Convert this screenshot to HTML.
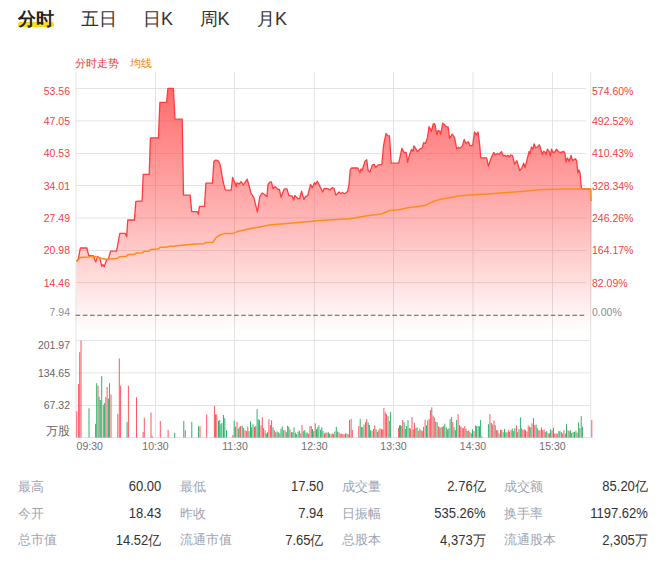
<!DOCTYPE html>
<html><head><meta charset="utf-8"><style>
html,body{margin:0;padding:0;background:#fff;width:664px;height:562px;overflow:hidden}
body{position:relative;font-family:"Liberation Sans",sans-serif}
.tab{position:absolute;top:7.5px;font-size:18px;line-height:22px;color:#333;font-weight:300}
.tab.on{font-weight:bold;color:#222;top:7.7px}
.hl{position:absolute;left:18px;top:22px;width:36px;height:5px;background:#ffd81a;border-radius:2px}
.lg{position:absolute;top:55.7px;font-size:11px;line-height:14px;font-weight:300}
.ly{position:absolute;left:0;width:70px;text-align:right;font-size:10.5px;line-height:13px}
.ry{position:absolute;left:592px;font-size:10.5px;line-height:13px}
.vy{position:absolute;left:0;width:70px;text-align:right;font-size:10.5px;line-height:13px;color:#666}
.tl{position:absolute;top:439px;font-size:10.5px;line-height:14px;color:#6e6e6e}
.sk{position:absolute;font-size:13px;line-height:18px;color:#9ea3b0;font-weight:300;margin-top:0.6px}
.sv{position:absolute;font-size:14px;line-height:18px;color:#333;text-align:right;font-weight:300;margin-top:0.9px;transform:scaleX(0.93);transform-origin:100% 50%}
svg{position:absolute;left:0;top:0}
</style></head><body>
<div class="hl"></div>
<div class="tab on" style="left:18px">分时</div>
<div class="tab" style="left:80.5px">五日</div>
<div class="tab" style="left:143px">日K</div>
<div class="tab" style="left:199.5px">周K</div>
<div class="tab" style="left:257px">月K</div>
<div class="lg" style="left:75px;color:#f53a3a">分时走势</div>
<div class="lg" style="left:129.6px;color:#ff7f00">均线</div>
<svg width="664" height="562" viewBox="0 0 664 562">
<defs><linearGradient id="gf" x1="0" y1="88" x2="0" y2="332" gradientUnits="userSpaceOnUse">
<stop offset="0" stop-color="#ff3b3b" stop-opacity="0.75"/>
<stop offset="0.5" stop-color="#ff3b3b" stop-opacity="0.4"/>
<stop offset="1" stop-color="#ff3b3b" stop-opacity="0"/>
</linearGradient></defs>
<line x1="76" y1="72" x2="76" y2="437.6" stroke="#e3e3e3" stroke-width="1"/><line x1="155.5" y1="72" x2="155.5" y2="437.6" stroke="#e3e3e3" stroke-width="1"/><line x1="234.5" y1="72" x2="234.5" y2="437.6" stroke="#e3e3e3" stroke-width="1"/><line x1="314.3" y1="72" x2="314.3" y2="437.6" stroke="#e3e3e3" stroke-width="1"/><line x1="393.5" y1="72" x2="393.5" y2="437.6" stroke="#e3e3e3" stroke-width="1"/><line x1="473" y1="72" x2="473" y2="437.6" stroke="#e3e3e3" stroke-width="1"/><line x1="552.5" y1="72" x2="552.5" y2="437.6" stroke="#e3e3e3" stroke-width="1"/><line x1="590.7" y1="72" x2="590.7" y2="437.6" stroke="#e3e3e3" stroke-width="1"/><line x1="76" y1="88.5" x2="586" y2="88.5" stroke="#e3e3e3" stroke-width="1"/><line x1="76" y1="120.9" x2="586" y2="120.9" stroke="#e3e3e3" stroke-width="1"/><line x1="76" y1="153.5" x2="586" y2="153.5" stroke="#e3e3e3" stroke-width="1"/><line x1="76" y1="185.5" x2="586" y2="185.5" stroke="#e3e3e3" stroke-width="1"/><line x1="76" y1="218" x2="586" y2="218" stroke="#e3e3e3" stroke-width="1"/><line x1="76" y1="250.5" x2="586" y2="250.5" stroke="#e3e3e3" stroke-width="1"/><line x1="76" y1="282.6" x2="586" y2="282.6" stroke="#e3e3e3" stroke-width="1"/><line x1="76" y1="340.5" x2="590.7" y2="340.5" stroke="#e3e3e3" stroke-width="1"/><line x1="76" y1="372.9" x2="590.7" y2="372.9" stroke="#e3e3e3" stroke-width="1"/><line x1="76" y1="405.5" x2="590.7" y2="405.5" stroke="#e3e3e3" stroke-width="1"/><line x1="76" y1="437.6" x2="590.5" y2="437.6" stroke="#e3e3e3" stroke-width="1"/>
<polygon points="76.6,261.5 78.5,258.3 80.3,248.0 86.9,248.0 88.7,255.6 93.1,255.6 95.8,261.9 97.6,256.5 99.9,258.3 101.7,266.3 102.9,264.5 104.2,266.8 106.5,260.0 108.3,259.2 110.6,251.2 116.6,251.2 119.8,233.4 125.2,233.4 126.6,236.6 127.8,220.0 134.4,220.0 135.8,201.4 142.1,201.0 143.2,174.3 149.2,174.3 150.4,137.8 158.4,137.8 159.9,102.4 166.6,102.4 167.9,88.4 173.4,88.4 175.0,119.2 182.2,119.2 183.5,195.2 190.2,195.2 191.7,211.6 197.0,211.6 198.3,214.3 199.5,206.3 204.5,206.3 205.9,183.1 212.5,183.1 213.9,161.4 216.0,160.0 218.6,161.2 219.7,163.5 220.9,168.7 222.1,176.2 223.6,183.7 225.3,190.2 231.2,190.2 232.6,177.4 234.7,182.2 236.2,186.7 236.9,182.8 239.2,184.0 241.0,181.7 243.3,184.9 247.2,179.2 249.2,186.2 251.1,193.6 253.6,196.8 257.4,211.8 259.8,196.5 262.1,193.0 264.2,194.3 266.9,196.6 268.1,184.1 269.9,182.3 271.4,181.8 273.1,188.9 274.9,186.6 278.1,189.5 279.4,189.5 281.1,197.3 284.2,188.9 287.0,188.9 288.8,195.5 292.3,196.2 293.6,200.1 294.8,195.5 298.0,198.7 299.5,198.7 301.6,191.2 303.9,199.6 305.5,196.6 307.8,195.5 310.5,184.5 312.3,187.7 314.4,182.7 315.5,184.5 317.3,181.3 319.4,185.4 322.6,192.0 324.4,188.4 328.3,188.9 330.1,189.8 332.2,187.7 334.0,188.4 335.8,195.2 339.0,192.0 341.1,193.7 342.5,192.5 344.7,193.7 347.5,191.6 348.9,185.4 350.3,169.4 351.6,168.0 357.8,168.0 359.9,172.6 361.0,169.0 362.2,170.3 364.9,161.4 366.7,159.6 368.1,170.3 369.9,172.1 372.4,164.9 374.2,164.4 375.6,167.3 378.3,164.9 381.8,164.4 383.6,145.4 385.9,133.5 387.7,135.6 389.5,135.9 391.2,163.2 398.7,163.2 401.9,148.4 404.1,152.5 406.2,152.5 407.6,162.3 409.4,155.2 411.5,149.5 413.0,151.2 413.8,145.9 415.6,148.4 417.4,151.6 420.1,148.9 422.2,148.0 423.6,142.7 425.4,143.6 427.5,137.4 429.0,126.7 430.7,129.4 431.4,131.7 433.2,124.0 434.4,123.5 435.3,125.8 436.8,134.7 438.0,130.6 439.8,131.1 440.7,134.2 442.8,123.1 444.6,124.9 446.0,126.7 448.1,127.0 449.6,138.3 452.2,134.2 454.6,137.7 456.7,148.9 458.5,147.2 459.9,148.4 462.4,145.9 464.2,139.5 465.9,143.6 468.3,141.8 470.0,145.9 472.7,145.4 474.5,132.0 476.3,134.7 478.0,132.0 479.8,145.9 480.7,157.8 486.6,157.8 488.4,166.2 490.5,159.6 493.7,152.5 495.5,154.8 497.3,153.4 499.0,154.3 501.4,151.6 503.4,156.0 504.7,155.3 506.1,156.4 507.9,155.3 509.5,156.7 510.8,155.0 512.5,155.6 514.6,164.1 516.9,160.7 519.6,170.5 521.7,168.2 523.7,163.2 525.1,167.5 527.8,156.7 529.1,151.3 530.1,154.0 531.4,147.2 532.8,149.2 534.1,143.8 535.5,147.9 537.3,147.2 539.3,144.8 540.7,148.6 542.3,154.6 543.6,151.3 545.4,152.6 546.1,154.6 547.4,149.2 549.1,151.3 550.4,156.0 551.5,149.2 553.1,152.6 554.9,151.9 556.6,149.2 558.5,151.9 560.7,152.3 563.7,151.5 565.0,153.3 566.1,162.1 567.5,158.0 569.1,161.4 571.1,155.3 572.5,160.7 574.3,159.4 575.6,158.7 576.6,161.0 577.9,172.9 578.9,170.0 579.9,172.3 581.5,188.8 590.8,189.0 591.6,189.0 591.6,336.0 76.6,336.0" fill="url(#gf)"/>
<line x1="75.6" y1="315.3" x2="584.3" y2="315.3" stroke="#5c5c5c" stroke-width="1.1" stroke-dasharray="4.6,2.6"/>
<polyline points="76.6,261.5 78.5,258.3 80.3,248.0 86.9,248.0 88.7,255.6 93.1,255.6 95.8,261.9 97.6,256.5 99.9,258.3 101.7,266.3 102.9,264.5 104.2,266.8 106.5,260.0 108.3,259.2 110.6,251.2 116.6,251.2 119.8,233.4 125.2,233.4 126.6,236.6 127.8,220.0 134.4,220.0 135.8,201.4 142.1,201.0 143.2,174.3 149.2,174.3 150.4,137.8 158.4,137.8 159.9,102.4 166.6,102.4 167.9,88.4 173.4,88.4 175.0,119.2 182.2,119.2 183.5,195.2 190.2,195.2 191.7,211.6 197.0,211.6 198.3,214.3 199.5,206.3 204.5,206.3 205.9,183.1 212.5,183.1 213.9,161.4 216.0,160.0 218.6,161.2 219.7,163.5 220.9,168.7 222.1,176.2 223.6,183.7 225.3,190.2 231.2,190.2 232.6,177.4 234.7,182.2 236.2,186.7 236.9,182.8 239.2,184.0 241.0,181.7 243.3,184.9 247.2,179.2 249.2,186.2 251.1,193.6 253.6,196.8 257.4,211.8 259.8,196.5 262.1,193.0 264.2,194.3 266.9,196.6 268.1,184.1 269.9,182.3 271.4,181.8 273.1,188.9 274.9,186.6 278.1,189.5 279.4,189.5 281.1,197.3 284.2,188.9 287.0,188.9 288.8,195.5 292.3,196.2 293.6,200.1 294.8,195.5 298.0,198.7 299.5,198.7 301.6,191.2 303.9,199.6 305.5,196.6 307.8,195.5 310.5,184.5 312.3,187.7 314.4,182.7 315.5,184.5 317.3,181.3 319.4,185.4 322.6,192.0 324.4,188.4 328.3,188.9 330.1,189.8 332.2,187.7 334.0,188.4 335.8,195.2 339.0,192.0 341.1,193.7 342.5,192.5 344.7,193.7 347.5,191.6 348.9,185.4 350.3,169.4 351.6,168.0 357.8,168.0 359.9,172.6 361.0,169.0 362.2,170.3 364.9,161.4 366.7,159.6 368.1,170.3 369.9,172.1 372.4,164.9 374.2,164.4 375.6,167.3 378.3,164.9 381.8,164.4 383.6,145.4 385.9,133.5 387.7,135.6 389.5,135.9 391.2,163.2 398.7,163.2 401.9,148.4 404.1,152.5 406.2,152.5 407.6,162.3 409.4,155.2 411.5,149.5 413.0,151.2 413.8,145.9 415.6,148.4 417.4,151.6 420.1,148.9 422.2,148.0 423.6,142.7 425.4,143.6 427.5,137.4 429.0,126.7 430.7,129.4 431.4,131.7 433.2,124.0 434.4,123.5 435.3,125.8 436.8,134.7 438.0,130.6 439.8,131.1 440.7,134.2 442.8,123.1 444.6,124.9 446.0,126.7 448.1,127.0 449.6,138.3 452.2,134.2 454.6,137.7 456.7,148.9 458.5,147.2 459.9,148.4 462.4,145.9 464.2,139.5 465.9,143.6 468.3,141.8 470.0,145.9 472.7,145.4 474.5,132.0 476.3,134.7 478.0,132.0 479.8,145.9 480.7,157.8 486.6,157.8 488.4,166.2 490.5,159.6 493.7,152.5 495.5,154.8 497.3,153.4 499.0,154.3 501.4,151.6 503.4,156.0 504.7,155.3 506.1,156.4 507.9,155.3 509.5,156.7 510.8,155.0 512.5,155.6 514.6,164.1 516.9,160.7 519.6,170.5 521.7,168.2 523.7,163.2 525.1,167.5 527.8,156.7 529.1,151.3 530.1,154.0 531.4,147.2 532.8,149.2 534.1,143.8 535.5,147.9 537.3,147.2 539.3,144.8 540.7,148.6 542.3,154.6 543.6,151.3 545.4,152.6 546.1,154.6 547.4,149.2 549.1,151.3 550.4,156.0 551.5,149.2 553.1,152.6 554.9,151.9 556.6,149.2 558.5,151.9 560.7,152.3 563.7,151.5 565.0,153.3 566.1,162.1 567.5,158.0 569.1,161.4 571.1,155.3 572.5,160.7 574.3,159.4 575.6,158.7 576.6,161.0 577.9,172.9 578.9,170.0 579.9,172.3 581.5,188.8 590.8,189.0" fill="none" stroke="#ff3d40" stroke-width="1.3" stroke-linejoin="round"/>
<polyline points="76.6,261.5 80.3,257.4 87.8,256.9 93.1,256.2 105.6,259.2 117.2,258.5 119.9,256.7 126.3,256.3 128.1,254.5 134.4,254.5 136.2,253.1 142.5,252.7 144.3,251.3 148.9,251.3 150.7,249.5 157.9,249.1 160.2,247.3 166.0,247.3 169.6,246.2 173.3,246.2 184.1,244.9 194.9,244.0 204.0,243.7 205.8,242.6 212.7,242.6 216.3,237.3 220.0,235.0 224.8,233.6 232.1,233.6 237.4,231.6 252.2,228.3 271.1,224.8 290.1,223.2 307.0,221.8 319.6,220.5 336.5,219.5 350.0,218.8 367.1,215.8 381.6,214.0 389.7,210.4 397.8,210.0 409.0,207.6 418.1,206.4 425.6,205.3 432.4,201.8 439.2,199.6 449.7,197.8 460.2,195.8 473.8,194.8 488.9,193.9 500.0,193.0 515.1,191.9 530.1,190.8 539.2,189.8 552.7,189.3 567.8,189.1 581.3,189.0 590.4,189.1 591.2,201.0" fill="none" stroke="#ff8c1a" stroke-width="1.5" stroke-linejoin="round"/>
<rect x="76.30" y="411.3" width="1" height="26.3" fill="#ff5661"/><rect x="78.10" y="384.0" width="1" height="53.6" fill="#ff5661"/><rect x="79.20" y="352.2" width="1" height="85.4" fill="#ff5661"/><rect x="80.50" y="340.6" width="1" height="97.0" fill="#ff5661"/><rect x="88.50" y="408.3" width="1" height="29.3" fill="#2eb36b"/><rect x="95.10" y="423.8" width="1" height="13.8" fill="#2eb36b"/><rect x="96.20" y="383.2" width="1" height="54.4" fill="#2eb36b"/><rect x="97.50" y="385.8" width="1" height="51.8" fill="#ff5661"/><rect x="98.60" y="396.7" width="1" height="40.9" fill="#2eb36b"/><rect x="99.80" y="400.0" width="1" height="37.6" fill="#2eb36b"/><rect x="101.20" y="376.0" width="1" height="61.6" fill="#2eb36b"/><rect x="102.80" y="405.0" width="1" height="32.6" fill="#ff5661"/><rect x="103.90" y="403.2" width="1" height="34.4" fill="#2eb36b"/><rect x="105.30" y="397.0" width="1" height="40.6" fill="#ff5661"/><rect x="106.60" y="387.0" width="1" height="50.6" fill="#ff5661"/><rect x="107.90" y="398.6" width="1" height="39.0" fill="#2eb36b"/><rect x="109.00" y="383.2" width="1" height="54.4" fill="#ff5661"/><rect x="110.50" y="394.4" width="1" height="43.2" fill="#ff5661"/><rect x="117.30" y="413.9" width="1" height="23.7" fill="#ff5661"/><rect x="118.80" y="358.4" width="1" height="79.2" fill="#ff5661"/><rect x="120.10" y="385.8" width="1" height="51.8" fill="#ff5661"/><rect x="126.60" y="421.9" width="1" height="15.7" fill="#2eb36b"/><rect x="127.90" y="385.8" width="1" height="51.8" fill="#ff5661"/><rect x="136.00" y="397.2" width="1" height="40.4" fill="#ff5661"/><rect x="142.60" y="431.8" width="1" height="5.8" fill="#ff5661"/><rect x="143.80" y="417.8" width="1" height="19.8" fill="#ff5661"/><rect x="150.50" y="412.6" width="1" height="25.0" fill="#ff5661"/><rect x="151.60" y="435.6" width="1" height="2.0" fill="#ff5661"/><rect x="159.80" y="421.0" width="1" height="16.6" fill="#ff5661"/><rect x="167.60" y="430.0" width="1" height="7.6" fill="#ff5661"/><rect x="174.20" y="432.8" width="1" height="4.8" fill="#2eb36b"/><rect x="183.30" y="421.0" width="1" height="16.6" fill="#2eb36b"/><rect x="184.80" y="430.3" width="1" height="7.3" fill="#ff5661"/><rect x="191.30" y="421.9" width="1" height="15.7" fill="#2eb36b"/><rect x="198.10" y="426.2" width="1" height="11.4" fill="#2eb36b"/><rect x="199.50" y="426.2" width="1" height="11.4" fill="#ff5661"/><rect x="206.20" y="414.4" width="1" height="23.2" fill="#ff5661"/><rect x="213.90" y="406.0" width="1" height="31.6" fill="#ff5661"/><rect x="215.00" y="414.4" width="1" height="23.2" fill="#ff5661"/><rect x="216.30" y="414.4" width="1" height="23.2" fill="#ff5661"/><rect x="218.00" y="421.0" width="1" height="16.6" fill="#2eb36b"/><rect x="219.20" y="420.0" width="1" height="17.6" fill="#2eb36b"/><rect x="220.40" y="424.3" width="1" height="13.3" fill="#2eb36b"/><rect x="221.40" y="422.9" width="1" height="14.7" fill="#2eb36b"/><rect x="223.00" y="415.0" width="1" height="22.6" fill="#2eb36b"/><rect x="224.30" y="418.2" width="1" height="19.4" fill="#2eb36b"/><rect x="226.00" y="430.3" width="1" height="7.3" fill="#2eb36b"/><rect x="232.30" y="435.0" width="1" height="2.6" fill="#ff5661"/><rect x="233.70" y="420.6" width="1" height="17.0" fill="#2eb36b"/><rect x="234.90" y="426.6" width="1" height="11.0" fill="#2eb36b"/><rect x="236.50" y="422.0" width="1" height="15.6" fill="#ff5661"/><rect x="237.90" y="428.5" width="1" height="9.1" fill="#2eb36b"/><rect x="239.30" y="426.6" width="1" height="11.0" fill="#ff5661"/><rect x="240.10" y="426.1" width="1" height="11.5" fill="#ff5661"/><rect x="241.70" y="425.7" width="1" height="11.9" fill="#2eb36b"/><rect x="243.10" y="428.1" width="1" height="9.5" fill="#2eb36b"/><rect x="244.60" y="430.2" width="1" height="7.4" fill="#ff5661"/><rect x="246.10" y="431.1" width="1" height="6.5" fill="#ff5661"/><rect x="247.30" y="426.6" width="1" height="11.0" fill="#ff5661"/><rect x="248.50" y="431.1" width="1" height="6.5" fill="#2eb36b"/><rect x="250.00" y="421.3" width="1" height="16.3" fill="#2eb36b"/><rect x="251.10" y="427.3" width="1" height="10.3" fill="#2eb36b"/><rect x="252.50" y="424.2" width="1" height="13.4" fill="#2eb36b"/><rect x="254.00" y="426.9" width="1" height="10.7" fill="#ff5661"/><rect x="255.20" y="426.1" width="1" height="11.5" fill="#2eb36b"/><rect x="256.60" y="409.2" width="1" height="28.4" fill="#2eb36b"/><rect x="257.80" y="419.3" width="1" height="18.3" fill="#2eb36b"/><rect x="259.00" y="420.1" width="1" height="17.5" fill="#ff5661"/><rect x="260.50" y="425.4" width="1" height="12.2" fill="#ff5661"/><rect x="261.80" y="417.3" width="1" height="20.3" fill="#ff5661"/><rect x="263.10" y="428.1" width="1" height="9.5" fill="#2eb36b"/><rect x="264.60" y="430.2" width="1" height="7.4" fill="#ff5661"/><rect x="265.80" y="433.6" width="1" height="4.0" fill="#2eb36b"/><rect x="267.00" y="432.3" width="1" height="5.3" fill="#2eb36b"/><rect x="268.40" y="419.1" width="1" height="18.5" fill="#ff5661"/><rect x="269.90" y="425.1" width="1" height="12.5" fill="#ff5661"/><rect x="271.10" y="420.1" width="1" height="17.5" fill="#ff5661"/><rect x="272.50" y="427.3" width="1" height="10.3" fill="#2eb36b"/><rect x="273.80" y="430.2" width="1" height="7.4" fill="#ff5661"/><rect x="275.20" y="432.3" width="1" height="5.3" fill="#2eb36b"/><rect x="276.60" y="431.4" width="1" height="6.2" fill="#2eb36b"/><rect x="277.80" y="432.3" width="1" height="5.3" fill="#2eb36b"/><rect x="279.30" y="433.3" width="1" height="4.3" fill="#ff5661"/><rect x="280.50" y="428.7" width="1" height="8.9" fill="#2eb36b"/><rect x="281.70" y="426.3" width="1" height="11.3" fill="#2eb36b"/><rect x="283.10" y="430.2" width="1" height="7.4" fill="#ff5661"/><rect x="284.60" y="430.2" width="1" height="7.4" fill="#ff5661"/><rect x="285.80" y="432.3" width="1" height="5.3" fill="#2eb36b"/><rect x="287.10" y="425.7" width="1" height="11.9" fill="#ff5661"/><rect x="288.30" y="426.9" width="1" height="10.7" fill="#2eb36b"/><rect x="289.50" y="429.3" width="1" height="8.3" fill="#ff5661"/><rect x="291.10" y="432.1" width="1" height="5.5" fill="#2eb36b"/><rect x="292.30" y="432.3" width="1" height="5.3" fill="#2eb36b"/><rect x="293.50" y="427.3" width="1" height="10.3" fill="#2eb36b"/><rect x="294.90" y="432.6" width="1" height="5.0" fill="#ff5661"/><rect x="296.10" y="434.2" width="1" height="3.4" fill="#2eb36b"/><rect x="297.60" y="431.7" width="1" height="5.9" fill="#2eb36b"/><rect x="298.80" y="430.5" width="1" height="7.1" fill="#2eb36b"/><rect x="300.30" y="433.3" width="1" height="4.3" fill="#ff5661"/><rect x="301.50" y="424.9" width="1" height="12.7" fill="#ff5661"/><rect x="302.80" y="431.1" width="1" height="6.5" fill="#2eb36b"/><rect x="304.20" y="430.2" width="1" height="7.4" fill="#2eb36b"/><rect x="305.50" y="432.6" width="1" height="5.0" fill="#2eb36b"/><rect x="306.70" y="432.6" width="1" height="5.0" fill="#2eb36b"/><rect x="307.90" y="433.8" width="1" height="3.8" fill="#ff5661"/><rect x="309.40" y="426.1" width="1" height="11.5" fill="#ff5661"/><rect x="310.80" y="426.1" width="1" height="11.5" fill="#ff5661"/><rect x="312.00" y="429.0" width="1" height="8.6" fill="#2eb36b"/><rect x="313.20" y="431.1" width="1" height="6.5" fill="#ff5661"/><rect x="314.70" y="423.3" width="1" height="14.3" fill="#ff5661"/><rect x="316.00" y="429.3" width="1" height="8.3" fill="#2eb36b"/><rect x="317.20" y="427.3" width="1" height="10.3" fill="#ff5661"/><rect x="318.40" y="425.4" width="1" height="12.2" fill="#2eb36b"/><rect x="320.10" y="429.9" width="1" height="7.7" fill="#2eb36b"/><rect x="321.30" y="427.3" width="1" height="10.3" fill="#2eb36b"/><rect x="322.50" y="430.9" width="1" height="6.7" fill="#2eb36b"/><rect x="324.00" y="433.3" width="1" height="4.3" fill="#ff5661"/><rect x="325.30" y="432.6" width="1" height="5.0" fill="#2eb36b"/><rect x="326.50" y="432.6" width="1" height="5.0" fill="#ff5661"/><rect x="327.90" y="432.3" width="1" height="5.3" fill="#2eb36b"/><rect x="329.10" y="433.6" width="1" height="4.0" fill="#2eb36b"/><rect x="330.60" y="434.2" width="1" height="3.4" fill="#ff5661"/><rect x="331.80" y="433.3" width="1" height="4.3" fill="#ff5661"/><rect x="333.00" y="434.2" width="1" height="3.4" fill="#ff5661"/><rect x="334.40" y="431.4" width="1" height="6.2" fill="#2eb36b"/><rect x="335.80" y="426.9" width="1" height="10.7" fill="#2eb36b"/><rect x="337.10" y="431.4" width="1" height="6.2" fill="#ff5661"/><rect x="338.50" y="432.3" width="1" height="5.3" fill="#ff5661"/><rect x="339.70" y="433.8" width="1" height="3.8" fill="#ff5661"/><rect x="341.20" y="433.6" width="1" height="4.0" fill="#2eb36b"/><rect x="342.40" y="434.2" width="1" height="3.4" fill="#ff5661"/><rect x="343.60" y="434.2" width="1" height="3.4" fill="#ff5661"/><rect x="345.00" y="433.3" width="1" height="4.3" fill="#2eb36b"/><rect x="346.50" y="433.8" width="1" height="3.8" fill="#2eb36b"/><rect x="347.70" y="434.2" width="1" height="3.4" fill="#ff5661"/><rect x="349.00" y="420.1" width="1" height="17.5" fill="#ff5661"/><rect x="350.60" y="418.9" width="1" height="18.7" fill="#ff5661"/><rect x="351.80" y="429.9" width="1" height="7.7" fill="#ff5661"/><rect x="358.30" y="426.1" width="1" height="11.5" fill="#ff5661"/><rect x="359.70" y="419.1" width="1" height="18.5" fill="#2eb36b"/><rect x="361.10" y="426.9" width="1" height="10.7" fill="#ff5661"/><rect x="362.30" y="427.3" width="1" height="10.3" fill="#2eb36b"/><rect x="363.50" y="424.5" width="1" height="13.1" fill="#ff5661"/><rect x="365.00" y="422.1" width="1" height="15.5" fill="#ff5661"/><rect x="366.20" y="419.1" width="1" height="18.5" fill="#ff5661"/><rect x="367.70" y="422.5" width="1" height="15.1" fill="#2eb36b"/><rect x="368.90" y="425.1" width="1" height="12.5" fill="#2eb36b"/><rect x="370.10" y="430.2" width="1" height="7.4" fill="#2eb36b"/><rect x="371.50" y="430.9" width="1" height="6.7" fill="#ff5661"/><rect x="373.00" y="429.0" width="1" height="8.6" fill="#ff5661"/><rect x="374.30" y="425.4" width="1" height="12.2" fill="#ff5661"/><rect x="375.60" y="429.3" width="1" height="8.3" fill="#2eb36b"/><rect x="377.10" y="431.7" width="1" height="5.9" fill="#ff5661"/><rect x="378.30" y="429.7" width="1" height="7.9" fill="#ff5661"/><rect x="379.50" y="428.1" width="1" height="9.5" fill="#ff5661"/><rect x="380.90" y="429.0" width="1" height="8.6" fill="#2eb36b"/><rect x="382.20" y="429.3" width="1" height="8.3" fill="#ff5661"/><rect x="383.40" y="408.0" width="1" height="29.6" fill="#ff5661"/><rect x="384.80" y="412.5" width="1" height="25.1" fill="#ff5661"/><rect x="386.00" y="414.3" width="1" height="23.3" fill="#ff5661"/><rect x="387.50" y="416.1" width="1" height="21.5" fill="#2eb36b"/><rect x="388.80" y="420.9" width="1" height="16.7" fill="#ff5661"/><rect x="390.10" y="412.1" width="1" height="25.5" fill="#2eb36b"/><rect x="398.10" y="428.1" width="1" height="9.5" fill="#ff5661"/><rect x="399.00" y="425.4" width="1" height="12.2" fill="#2eb36b"/><rect x="400.10" y="425.1" width="1" height="12.5" fill="#2eb36b"/><rect x="401.30" y="426.1" width="1" height="11.5" fill="#ff5661"/><rect x="402.20" y="420.1" width="1" height="17.5" fill="#ff5661"/><rect x="403.60" y="422.1" width="1" height="15.5" fill="#2eb36b"/><rect x="404.90" y="429.0" width="1" height="8.6" fill="#ff5661"/><rect x="406.10" y="426.1" width="1" height="11.5" fill="#2eb36b"/><rect x="407.50" y="420.1" width="1" height="17.5" fill="#2eb36b"/><rect x="408.90" y="428.1" width="1" height="9.5" fill="#ff5661"/><rect x="410.10" y="428.5" width="1" height="9.1" fill="#ff5661"/><rect x="411.50" y="416.9" width="1" height="20.7" fill="#ff5661"/><rect x="412.80" y="429.3" width="1" height="8.3" fill="#2eb36b"/><rect x="414.00" y="423.0" width="1" height="14.6" fill="#ff5661"/><rect x="415.40" y="428.1" width="1" height="9.5" fill="#2eb36b"/><rect x="416.60" y="427.3" width="1" height="10.3" fill="#2eb36b"/><rect x="418.20" y="430.9" width="1" height="6.7" fill="#ff5661"/><rect x="419.40" y="428.5" width="1" height="9.1" fill="#ff5661"/><rect x="420.60" y="430.2" width="1" height="7.4" fill="#2eb36b"/><rect x="421.80" y="431.1" width="1" height="6.5" fill="#ff5661"/><rect x="423.10" y="426.9" width="1" height="10.7" fill="#2eb36b"/><rect x="424.60" y="419.7" width="1" height="17.9" fill="#ff5661"/><rect x="426.00" y="425.4" width="1" height="12.2" fill="#2eb36b"/><rect x="427.20" y="420.3" width="1" height="17.3" fill="#ff5661"/><rect x="428.70" y="419.1" width="1" height="18.5" fill="#ff5661"/><rect x="429.90" y="410.1" width="1" height="27.5" fill="#ff5661"/><rect x="431.30" y="407.3" width="1" height="30.3" fill="#2eb36b"/><rect x="432.60" y="415.5" width="1" height="22.1" fill="#ff5661"/><rect x="433.80" y="417.3" width="1" height="20.3" fill="#ff5661"/><rect x="435.20" y="421.7" width="1" height="15.9" fill="#2eb36b"/><rect x="436.60" y="422.1" width="1" height="15.5" fill="#2eb36b"/><rect x="438.10" y="426.3" width="1" height="11.3" fill="#ff5661"/><rect x="439.30" y="427.3" width="1" height="10.3" fill="#ff5661"/><rect x="440.50" y="427.3" width="1" height="10.3" fill="#2eb36b"/><rect x="441.90" y="426.9" width="1" height="10.7" fill="#ff5661"/><rect x="443.10" y="426.1" width="1" height="11.5" fill="#ff5661"/><rect x="444.30" y="423.7" width="1" height="13.9" fill="#2eb36b"/><rect x="445.80" y="427.3" width="1" height="10.3" fill="#2eb36b"/><rect x="447.10" y="429.3" width="1" height="8.3" fill="#ff5661"/><rect x="448.30" y="428.5" width="1" height="9.1" fill="#2eb36b"/><rect x="449.60" y="419.1" width="1" height="18.5" fill="#2eb36b"/><rect x="451.10" y="416.9" width="1" height="20.7" fill="#ff5661"/><rect x="452.30" y="422.1" width="1" height="15.5" fill="#ff5661"/><rect x="453.50" y="427.3" width="1" height="10.3" fill="#2eb36b"/><rect x="454.90" y="430.2" width="1" height="7.4" fill="#2eb36b"/><rect x="456.10" y="420.1" width="1" height="17.5" fill="#2eb36b"/><rect x="457.60" y="414.0" width="1" height="23.6" fill="#ff5661"/><rect x="459.00" y="425.1" width="1" height="12.5" fill="#2eb36b"/><rect x="460.30" y="426.6" width="1" height="11.0" fill="#ff5661"/><rect x="461.70" y="427.8" width="1" height="9.8" fill="#ff5661"/><rect x="462.90" y="428.1" width="1" height="9.5" fill="#ff5661"/><rect x="464.30" y="426.1" width="1" height="11.5" fill="#ff5661"/><rect x="465.50" y="428.7" width="1" height="8.9" fill="#2eb36b"/><rect x="466.70" y="430.9" width="1" height="6.7" fill="#2eb36b"/><rect x="468.20" y="430.2" width="1" height="7.4" fill="#ff5661"/><rect x="469.40" y="432.1" width="1" height="5.5" fill="#2eb36b"/><rect x="470.80" y="433.3" width="1" height="4.3" fill="#ff5661"/><rect x="472.00" y="429.3" width="1" height="8.3" fill="#2eb36b"/><rect x="473.50" y="431.1" width="1" height="6.5" fill="#ff5661"/><rect x="474.90" y="425.4" width="1" height="12.2" fill="#ff5661"/><rect x="476.10" y="426.1" width="1" height="11.5" fill="#2eb36b"/><rect x="477.60" y="426.1" width="1" height="11.5" fill="#2eb36b"/><rect x="479.00" y="426.3" width="1" height="11.3" fill="#2eb36b"/><rect x="480.10" y="420.1" width="1" height="17.5" fill="#2eb36b"/><rect x="481.30" y="436.2" width="1" height="1.4" fill="#ff5661"/><rect x="487.90" y="424.2" width="1" height="13.4" fill="#2eb36b"/><rect x="489.40" y="414.0" width="1" height="23.6" fill="#ff5661"/><rect x="490.80" y="423.0" width="1" height="14.6" fill="#2eb36b"/><rect x="492.20" y="424.5" width="1" height="13.1" fill="#ff5661"/><rect x="493.50" y="420.5" width="1" height="17.1" fill="#ff5661"/><rect x="494.70" y="425.1" width="1" height="12.5" fill="#2eb36b"/><rect x="496.10" y="430.2" width="1" height="7.4" fill="#ff5661"/><rect x="497.30" y="430.2" width="1" height="7.4" fill="#2eb36b"/><rect x="498.50" y="433.3" width="1" height="4.3" fill="#2eb36b"/><rect x="500.00" y="429.7" width="1" height="7.9" fill="#ff5661"/><rect x="501.20" y="429.9" width="1" height="7.7" fill="#ff5661"/><rect x="502.60" y="432.1" width="1" height="5.5" fill="#2eb36b"/><rect x="504.00" y="429.0" width="1" height="8.6" fill="#2eb36b"/><rect x="505.30" y="432.3" width="1" height="5.3" fill="#ff5661"/><rect x="506.50" y="432.3" width="1" height="5.3" fill="#2eb36b"/><rect x="507.90" y="430.2" width="1" height="7.4" fill="#ff5661"/><rect x="509.10" y="431.7" width="1" height="5.9" fill="#2eb36b"/><rect x="510.60" y="430.2" width="1" height="7.4" fill="#ff5661"/><rect x="511.80" y="428.5" width="1" height="9.1" fill="#2eb36b"/><rect x="513.20" y="431.1" width="1" height="6.5" fill="#2eb36b"/><rect x="514.40" y="428.1" width="1" height="9.5" fill="#2eb36b"/><rect x="515.90" y="425.4" width="1" height="12.2" fill="#ff5661"/><rect x="517.10" y="432.1" width="1" height="5.5" fill="#ff5661"/><rect x="518.50" y="429.3" width="1" height="8.3" fill="#2eb36b"/><rect x="519.90" y="417.3" width="1" height="20.3" fill="#2eb36b"/><rect x="521.20" y="428.1" width="1" height="9.5" fill="#ff5661"/><rect x="522.40" y="429.9" width="1" height="7.7" fill="#ff5661"/><rect x="523.80" y="429.3" width="1" height="8.3" fill="#ff5661"/><rect x="525.00" y="430.2" width="1" height="7.4" fill="#2eb36b"/><rect x="526.50" y="431.4" width="1" height="6.2" fill="#ff5661"/><rect x="527.70" y="425.4" width="1" height="12.2" fill="#ff5661"/><rect x="528.90" y="426.6" width="1" height="11.0" fill="#ff5661"/><rect x="530.30" y="427.3" width="1" height="10.3" fill="#2eb36b"/><rect x="531.50" y="423.3" width="1" height="14.3" fill="#ff5661"/><rect x="533.00" y="418.1" width="1" height="19.5" fill="#2eb36b"/><rect x="534.30" y="425.1" width="1" height="12.5" fill="#ff5661"/><rect x="535.60" y="424.5" width="1" height="13.1" fill="#2eb36b"/><rect x="536.80" y="428.1" width="1" height="9.5" fill="#2eb36b"/><rect x="538.30" y="430.2" width="1" height="7.4" fill="#ff5661"/><rect x="539.50" y="430.2" width="1" height="7.4" fill="#ff5661"/><rect x="540.90" y="427.3" width="1" height="10.3" fill="#2eb36b"/><rect x="542.20" y="429.9" width="1" height="7.7" fill="#ff5661"/><rect x="543.60" y="429.3" width="1" height="8.3" fill="#ff5661"/><rect x="544.80" y="432.1" width="1" height="5.5" fill="#2eb36b"/><rect x="546.20" y="431.1" width="1" height="6.5" fill="#2eb36b"/><rect x="547.60" y="433.3" width="1" height="4.3" fill="#ff5661"/><rect x="548.90" y="433.3" width="1" height="4.3" fill="#2eb36b"/><rect x="550.10" y="429.3" width="1" height="8.3" fill="#2eb36b"/><rect x="551.50" y="430.5" width="1" height="7.1" fill="#ff5661"/><rect x="553.00" y="427.8" width="1" height="9.8" fill="#2eb36b"/><rect x="554.20" y="433.6" width="1" height="4.0" fill="#ff5661"/><rect x="555.60" y="433.3" width="1" height="4.3" fill="#ff5661"/><rect x="556.80" y="433.8" width="1" height="3.8" fill="#ff5661"/><rect x="558.40" y="431.1" width="1" height="6.5" fill="#2eb36b"/><rect x="559.40" y="431.1" width="1" height="6.5" fill="#2eb36b"/><rect x="560.90" y="432.1" width="1" height="5.5" fill="#ff5661"/><rect x="562.20" y="433.3" width="1" height="4.3" fill="#ff5661"/><rect x="563.40" y="430.2" width="1" height="7.4" fill="#ff5661"/><rect x="564.80" y="433.6" width="1" height="4.0" fill="#2eb36b"/><rect x="566.00" y="424.2" width="1" height="13.4" fill="#2eb36b"/><rect x="567.50" y="430.2" width="1" height="7.4" fill="#ff5661"/><rect x="568.70" y="431.1" width="1" height="6.5" fill="#2eb36b"/><rect x="569.90" y="430.2" width="1" height="7.4" fill="#2eb36b"/><rect x="571.10" y="433.0" width="1" height="4.6" fill="#ff5661"/><rect x="572.60" y="432.1" width="1" height="5.5" fill="#2eb36b"/><rect x="574.00" y="432.1" width="1" height="5.5" fill="#2eb36b"/><rect x="575.40" y="430.5" width="1" height="7.1" fill="#ff5661"/><rect x="576.60" y="432.6" width="1" height="5.0" fill="#2eb36b"/><rect x="578.10" y="422.5" width="1" height="15.1" fill="#2eb36b"/><rect x="579.30" y="428.1" width="1" height="9.5" fill="#ff5661"/><rect x="580.70" y="416.1" width="1" height="21.5" fill="#2eb36b"/><rect x="581.90" y="426.9" width="1" height="10.7" fill="#2eb36b"/><rect x="591.30" y="420.1" width="1" height="17.5" fill="#ff5661"/>
</svg>
<div class="ly" style="top:84.7px;color:#f73c46">53.56</div><div class="ly" style="top:114.5px;color:#f73c46">47.05</div><div class="ly" style="top:146.7px;color:#f73c46">40.53</div><div class="ly" style="top:180.1px;color:#f73c46">34.01</div><div class="ly" style="top:211.8px;color:#f73c46">27.49</div><div class="ly" style="top:243.7px;color:#f73c46">20.98</div><div class="ly" style="top:276.5px;color:#f73c46">14.46</div><div class="ly" style="top:306.1px;color:#8a8f99">7.94</div><div class="ry" style="top:84.7px;color:#f73c46">574.60%</div><div class="ry" style="top:114.5px;color:#f73c46">492.52%</div><div class="ry" style="top:146.7px;color:#f73c46">410.43%</div><div class="ry" style="top:180.1px;color:#f73c46">328.34%</div><div class="ry" style="top:211.8px;color:#f73c46">246.26%</div><div class="ry" style="top:243.7px;color:#f73c46">164.17%</div><div class="ry" style="top:276.5px;color:#f73c46">82.09%</div><div class="ry" style="top:306.1px;color:#8a8f99">0.00%</div><div class="vy" style="top:338.7px">201.97</div><div class="vy" style="top:366.6px">134.65</div><div class="vy" style="top:398.5px">67.32</div>
<div class="vy" style="top:424px;font-size:11.5px;line-height:14px;font-weight:300">万股</div>
<div class="tl" style="left:76.6px">09:30</div><div class="tl" style="left:135.5px;width:40px;text-align:center">10:30</div><div class="tl" style="left:215px;width:40px;text-align:center">11:30</div><div class="tl" style="left:294.5px;width:40px;text-align:center">12:30</div><div class="tl" style="left:373.5px;width:40px;text-align:center">13:30</div><div class="tl" style="left:453px;width:40px;text-align:center">14:30</div><div class="tl" style="left:532.5px;width:40px;text-align:center">15:30</div>
<div class="sk" style="left:17.5px;top:477px">最高</div><div class="sv" style="left:17.5px;top:476.6px;width:143.3px">60.00</div><div class="sk" style="left:179.5px;top:477px">最低</div><div class="sv" style="left:179.5px;top:476.6px;width:143.5px">17.50</div><div class="sk" style="left:341.5px;top:477px">成交量</div><div class="sv" style="left:341.5px;top:476.6px;width:143.7px">2.76亿</div><div class="sk" style="left:503.5px;top:477px">成交额</div><div class="sv" style="left:503.5px;top:476.6px;width:143.9px">85.20亿</div><div class="sk" style="left:17.5px;top:504px">今开</div><div class="sv" style="left:17.5px;top:503.1px;width:143.3px">18.43</div><div class="sk" style="left:179.5px;top:504px">昨收</div><div class="sv" style="left:179.5px;top:503.1px;width:143.5px">7.94</div><div class="sk" style="left:341.5px;top:504px">日振幅</div><div class="sv" style="left:341.5px;top:503.1px;width:143.7px">535.26%</div><div class="sk" style="left:503.5px;top:504px">换手率</div><div class="sv" style="left:503.5px;top:503.1px;width:143.9px">1197.62%</div><div class="sk" style="left:17.5px;top:530.4px">总市值</div><div class="sv" style="left:17.5px;top:530.4px;width:143.3px">14.52亿</div><div class="sk" style="left:179.5px;top:530.4px">流通市值</div><div class="sv" style="left:179.5px;top:530.4px;width:143.5px">7.65亿</div><div class="sk" style="left:341.5px;top:530.4px">总股本</div><div class="sv" style="left:341.5px;top:530.4px;width:143.7px">4,373万</div><div class="sk" style="left:503.5px;top:530.4px">流通股本</div><div class="sv" style="left:503.5px;top:530.4px;width:143.9px">2,305万</div>
</body></html>
